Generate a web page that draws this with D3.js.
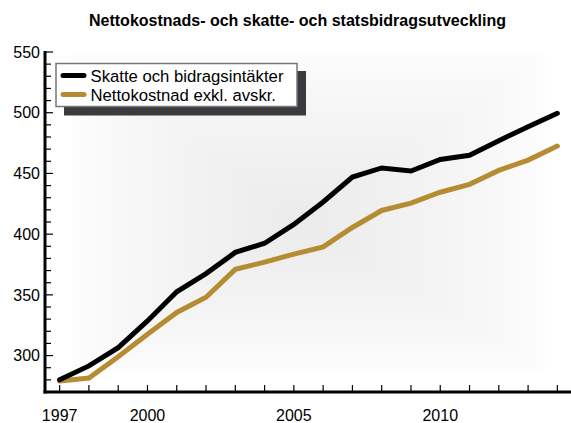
<!DOCTYPE html>
<html>
<head>
<meta charset="utf-8">
<script src="https://cdn.jsdelivr.net/npm/d3@7"></script>
<style>
  body { margin: 0; background: #fff; }
  text { font-family: "Liberation Sans", Arial, sans-serif; }
</style>
</head>
<body>
<div id="chart"></div>
<script>
const years = [1997, 1998, 1999, 2000, 2001, 2002, 2003, 2004, 2005, 2006, 2007, 2008, 2009, 2010, 2011, 2012, 2013, 2014];
const skatte = [280, 291.5, 306.5, 328.5, 352.5, 367.5, 385, 392.5, 408, 426.5, 447, 454.5, 452, 461.5, 465, 477, 488.5, 499.5];
const netto  = [279, 281.5, 299, 317.5, 335.5, 348, 371, 377, 383.5, 389.5, 405.5, 419.5, 425.5, 434.5, 441, 452.5, 461, 472.5];
const yLabels = [300, 350, 400, 450, 500, 550];
const xLabels = [1997, 2000, 2005, 2010];
const seriesNames = ["Skatte och bidragsintäkter", "Nettokostnad exkl. avskr."];
const seriesColors = ["#000000", "#b68c33"];

const width = 571, height = 423;
const plotLeft = 45, plotRight = 572, plotTop = 52, plotBottom = 392;

const svg = d3.select('#chart').append('svg')
    .attr('width', width)
    .attr('height', height);

// background: rectangular gradient made of nested rects
const bgOuter = {x0: 72, x1: 545, y0: 52, y1: 372};
const bgCenter = {x: 300, y: 222};
const bgShade = d3.interpolateRgb('#fdfdfd', '#ebebeb');
const steps = 60;
svg.append('g').selectAll('rect')
    .data(d3.range(steps))
    .join('rect')
    .attr('x', i => bgOuter.x0 + (bgCenter.x - bgOuter.x0) * i / steps)
    .attr('y', i => bgOuter.y0 + (bgCenter.y - bgOuter.y0) * i / steps)
    .attr('width', i => (bgOuter.x1 - bgOuter.x0) * (1 - i / steps))
    .attr('height', i => (bgOuter.y1 - bgOuter.y0) * (1 - i / steps))
    .attr('fill', i => bgShade(Math.pow(i / steps, 0.8)));

const x = d3.scaleLinear().domain([1996.5, 2014.5]).range([plotLeft, plotRight]);
const y = d3.scaleLinear().domain([270, 550]).range([plotBottom, plotTop]);

// title
svg.append('text')
    .attr('x', 297.5).attr('y', 26)
    .attr('text-anchor', 'middle')
    .attr('font-weight', 'bold')
    .attr('font-size', 16)
    .text('Nettokostnads- och skatte- och statsbidragsutveckling');

// y axis
const yAxis = svg.append('g');
yAxis.selectAll('line')
    .data(d3.range(280, 551, 10))
    .join('line')
    .attr('x1', plotLeft).attr('x2', d => d % 50 === 0 ? plotLeft + 8 : plotLeft + 6)
    .attr('y1', d => y(d)).attr('y2', d => y(d))
    .attr('stroke', '#000').attr('stroke-width', 1.2);
yAxis.selectAll('text')
    .data(yLabels)
    .join('text')
    .attr('x', plotLeft - 5)
    .attr('y', d => y(d))
    .attr('dy', '0.36em')
    .attr('text-anchor', 'end')
    .attr('font-size', 16)
    .text(d => d);

// x axis
const xAxis = svg.append('g');
xAxis.selectAll('line')
    .data(years)
    .join('line')
    .attr('x1', d => x(d)).attr('x2', d => x(d))
    .attr('y1', plotBottom).attr('y2', plotBottom - 7)
    .attr('stroke', '#000').attr('stroke-width', 1.2);
xAxis.selectAll('text')
    .data(xLabels)
    .join('text')
    .attr('x', d => x(d))
    .attr('y', 421)
    .attr('text-anchor', 'middle')
    .attr('font-size', 16)
    .text(d => d);

svg.append('line')
    .attr('x1', plotLeft).attr('x2', plotLeft)
    .attr('y1', plotTop - 1).attr('y2', plotBottom + 1.5)
    .attr('stroke', '#000').attr('stroke-width', 3);
svg.append('line')
    .attr('x1', plotLeft - 1.5).attr('x2', plotRight)
    .attr('y1', plotBottom).attr('y2', plotBottom)
    .attr('stroke', '#000').attr('stroke-width', 3);

// lines
const line = d3.line()
    .x((d, i) => x(years[i]))
    .y(d => y(d));

[netto, skatte].forEach((vals, k) => {
    svg.append('path')
        .datum(vals)
        .attr('d', line)
        .attr('fill', 'none')
        .attr('stroke', k === 0 ? seriesColors[1] : seriesColors[0])
        .attr('stroke-width', 5)
        .attr('stroke-linejoin', 'miter')
        .attr('stroke-linecap', 'round');
});

// legend
const lg = svg.append('g');
lg.append('rect')
    .attr('x', 64).attr('y', 71)
    .attr('width', 242).attr('height', 44.5)
    .attr('fill', '#3b3b3f');
lg.append('rect')
    .attr('x', 56).attr('y', 63.5)
    .attr('width', 241).attr('height', 43)
    .attr('fill', '#fff')
    .attr('stroke', '#777').attr('stroke-width', 1.5);
seriesNames.forEach((name, i) => {
    const yy = 75.5 + i * 19;
    lg.append('line')
        .attr('x1', 63).attr('x2', 84)
        .attr('y1', yy).attr('y2', yy)
        .attr('stroke', seriesColors[i])
        .attr('stroke-width', 5)
        .attr('stroke-linecap', 'round');
    lg.append('text')
        .attr('x', 90.5).attr('y', yy)
        .attr('dy', '0.36em')
        .attr('font-size', 16.7)
        .text(name);
});
</script>
</body>
</html>
